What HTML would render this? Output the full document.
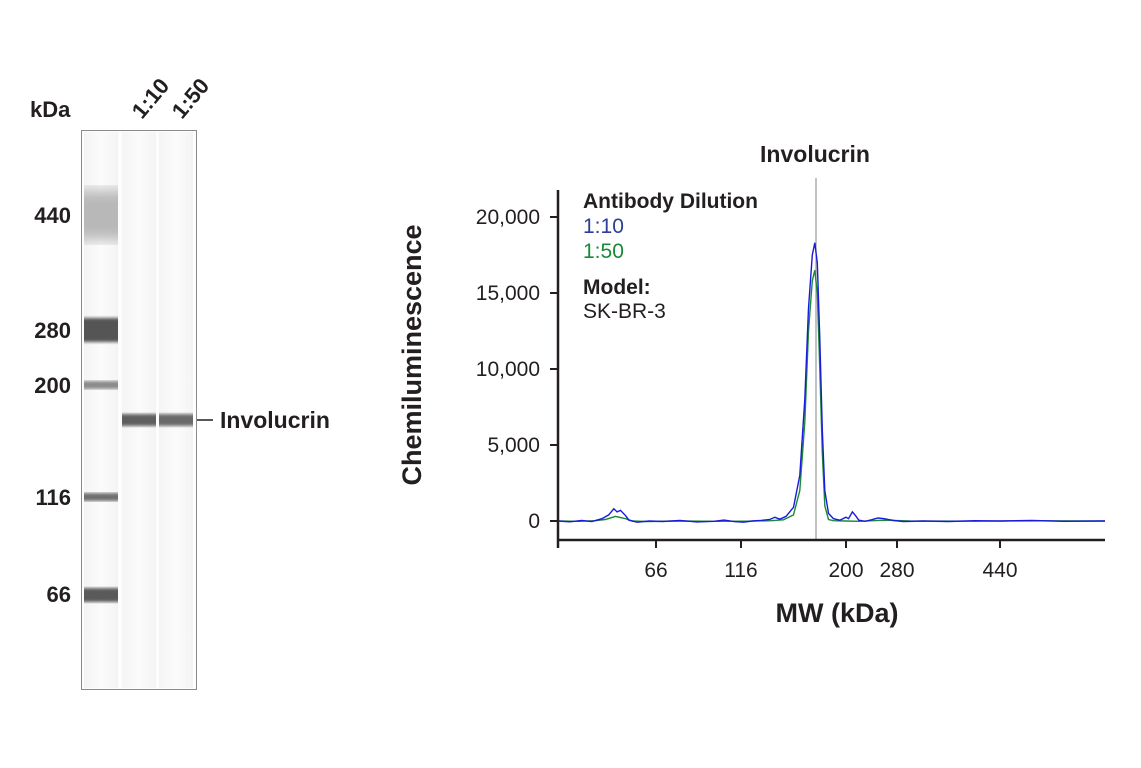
<!DOCTYPE html>
<html><head><meta charset="utf-8"><style>
html,body{margin:0;padding:0;background:#fff;}
svg{display:block;}
text{font-family:"Liberation Sans Narrow","Liberation Sans",sans-serif;fill:#231f20;}
.b{font-weight:bold;}
</style></head><body>
<svg id="fig" width="1141" height="768" viewBox="0 0 1141 768">
<defs>
<linearGradient id="lanebg" x1="0" x2="1"><stop offset="0" stop-color="#f4f4f4"/><stop offset="0.5" stop-color="#fbfbfb"/><stop offset="1" stop-color="#f4f4f4"/></linearGradient>
<filter id="blur"><feGaussianBlur stdDeviation="0 1.6"/></filter>
<filter id="blur2"><feGaussianBlur stdDeviation="0 7"/></filter>
</defs>
<g>
<text class="b" x="30" y="117" font-size="22">kDa</text>
<text class="b" x="0" y="0" font-size="22" transform="translate(142,120) rotate(-50)">1:10</text>
<text class="b" x="0" y="0" font-size="22" transform="translate(182,120) rotate(-50)">1:50</text>
<rect x="81.5" y="130.5" width="115" height="559" fill="#fdfdfd" stroke="#8a8a8a"/>
<rect x="84" y="132" width="34" height="556" fill="url(#lanebg)"/>
<rect x="122" y="132" width="34" height="556" fill="url(#lanebg)"/>
<rect x="159" y="132" width="34" height="556" fill="url(#lanebg)"/>
<rect x="84" y="190" width="34" height="50" fill="#b8b8b8" filter="url(#blur2)"/>
<rect x="84" y="318" width="34" height="24" fill="#555" filter="url(#blur)"/>
<rect x="84" y="381" width="34" height="8" fill="#8a8a8a" filter="url(#blur)"/>
<rect x="84" y="493" width="34" height="8" fill="#6e6e6e" filter="url(#blur)"/>
<rect x="84" y="588" width="34" height="14" fill="#5a5a5a" filter="url(#blur)"/>
<rect x="122" y="414" width="34" height="12" fill="#5f5f5f" filter="url(#blur)"/>
<rect x="159" y="414" width="34" height="12" fill="#6a6a6a" filter="url(#blur)"/>
<g font-size="22" class="b" text-anchor="end">
<text x="71" y="223">440</text>
<text x="71" y="338">280</text>
<text x="71" y="393">200</text>
<text x="71" y="505">116</text>
<text x="71" y="602">66</text>
</g>
<line x1="197" y1="420" x2="213" y2="420" stroke="#231f20" stroke-width="1.5"/>
<text class="b" x="220" y="428" font-size="23">Involucrin</text>
</g>
<g id="chart"></g>
</svg>
<script>
const xTickLabels=[66,116,200,280,440];
const yTickValues=[0,5000,10000,15000,20000];
const blueMW=[8,15,22,28,34,38,41,43,45,48,50,55,62,70,80,90,100,106,112,118,125,132,139,143,147,152,158,163,167,170,173,175,177,179,181,183,186,190,195,200,204,210,215,220,230,240,250,260,275,290,320,360,400,440,490,540,604];
const blueVal=[0,-50,30,-40,150,400,800,600,700,350,50,-80,0,-30,40,-60,-20,60,-40,-80,0,40,100,250,120,300,900,3000,8000,14000,17500,18300,17000,12000,6000,2000,500,150,50,250,150,600,350,50,-20,80,200,150,30,-40,0,-30,20,0,30,-20,0];
const greenMW=[8,20,30,36,42,48,52,60,80,100,120,140,150,158,163,167,170,173,175,177,179,181,183,186,190,200,220,260,300,400,500,604];
const greenVal=[0,-20,20,100,300,150,0,-30,0,-20,-10,20,80,400,2000,6500,12500,15800,16500,15000,10000,4500,1000,100,20,0,-20,50,0,-10,10,0];
const calMW=[8,66,116,200,280,440,604];
const calPx=[558,656,741,846,897,1000,1105];
function xS(m){for(let i=0;i<calMW.length-1;i++){if(m<=calMW[i+1]||i==calMW.length-2){return calPx[i]+(m-calMW[i])/(calMW[i+1]-calMW[i])*(calPx[i+1]-calPx[i]);}}}
function yS(v){return 521-v*(76/5000);}
const NS='http://www.w3.org/2000/svg';
const g=document.getElementById('chart');
function mk(tag,attrs,parent){const e=document.createElementNS(NS,tag);for(const k in attrs)e.setAttribute(k,attrs[k]);(parent||g).appendChild(e);return e;}
let e;
e=mk('line',{x1:816,y1:178,x2:816,y2:540,stroke:'#999','stroke-width':1.2});


e=mk('text',{x:815,y:162,'font-size':23,'text-anchor':'middle',class:'b'});e.textContent='Involucrin';


function line(xs,vs,col,name){const d=xs.map((m,i)=>(i?'L':'M')+xS(m).toFixed(1)+' '+yS(vs[i]).toFixed(1)).join(' ');const p=mk('path',{d:d,fill:'none',stroke:col,'stroke-width':1.4});

}
line(greenMW,greenVal,'#1a8a3a','series-1-50');
line(blueMW,blueVal,'#1a1adc','series-1-10');
e=mk('line',{x1:558,y1:190,x2:558,y2:548,stroke:'#231f20','stroke-width':2.5});


e=mk('line',{x1:557,y1:540,x2:1105,y2:540,stroke:'#231f20','stroke-width':2.5});


yTickValues.forEach(v=>{const y=yS(v);
const t=mk('line',{x1:550,y1:y,x2:558,y2:y,stroke:'#231f20','stroke-width':2});


const l=mk('text',{x:540,y:y+7,'font-size':21,'text-anchor':'end'});l.textContent=v.toLocaleString('en-US');

});
xTickLabels.forEach(m=>{const x=xS(m);
const t=mk('line',{x1:x,y1:540,x2:x,y2:548,stroke:'#231f20','stroke-width':2});


const l=mk('text',{x:x,y:577,'font-size':21,'text-anchor':'middle'});l.textContent=m;

});
e=mk('text',{x:837,y:622,'font-size':27,'text-anchor':'middle',class:'b'});e.textContent='MW (kDa)';


e=mk('text',{x:0,y:0,'font-size':27,'text-anchor':'middle',class:'b',transform:'translate(421,355) rotate(-90)'});e.textContent='Chemiluminescence';


const leg=[['Antibody Dilution','#231f20',true,208],['1:10','#2b3f9a',false,233],['1:50','#1a8a3a',false,258],['Model:','#231f20',true,294],['SK-BR-3','#231f20',false,318]];
leg.forEach(r=>{const t=mk('text',{x:583,y:r[3],'font-size':21,fill:r[1]});t.style.fill=r[1];if(r[2])t.setAttribute('class','b');t.textContent=r[0];

});
</script>
</body></html>
